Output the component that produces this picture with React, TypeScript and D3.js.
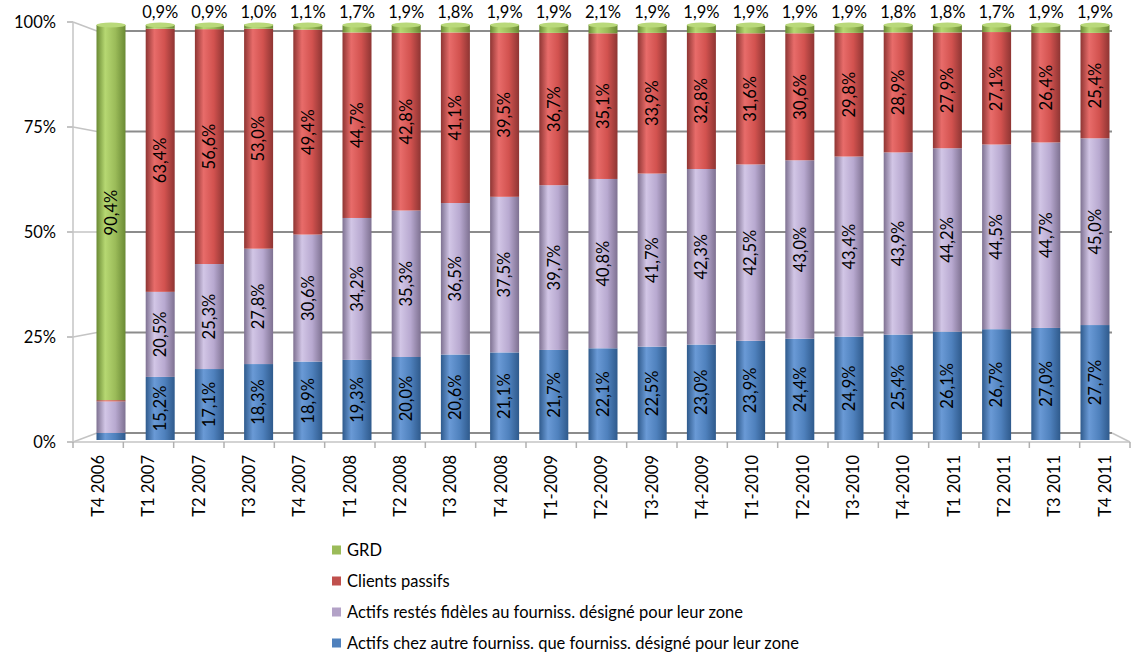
import React from "react";
import * as d3 from "d3";

const categories = [
  "T4 2006", "T1 2007", "T2 2007", "T3 2007", "T4 2007", "T1 2008", "T2 2008",
  "T3 2008", "T4 2008", "T1-2009", "T2-2009", "T3-2009", "T4-2009", "T1-2010",
  "T2-2010", "T3-2010", "T4-2010", "T1 2011", "T2 2011", "T3 2011", "T4 2011",
];

// stacked from the bottom up
const actifsAutre = [1.7, 15.2, 17.1, 18.3, 18.9, 19.3, 20.0, 20.6, 21.1, 21.7, 22.1, 22.5, 23.0, 23.9, 24.4, 24.9, 25.4, 26.1, 26.7, 27.0, 27.7];
const actifsFideles = [7.6, 20.5, 25.3, 27.8, 30.6, 34.2, 35.3, 36.5, 37.5, 39.7, 40.8, 41.7, 42.3, 42.5, 43.0, 43.4, 43.9, 44.2, 44.5, 44.7, 45.0];
const clientsPassifs = [0.3, 63.4, 56.6, 53.0, 49.4, 44.7, 42.8, 41.1, 39.5, 36.7, 35.1, 33.9, 32.8, 31.6, 30.6, 29.8, 28.9, 27.9, 27.1, 26.4, 25.4];
const grd = [90.4, 0.9, 0.9, 1.0, 1.1, 1.7, 1.9, 1.8, 1.9, 1.9, 2.1, 1.9, 1.9, 1.9, 1.9, 1.9, 1.8, 1.8, 1.7, 1.9, 1.9];

const yTicks = [0, 25, 50, 75, 100];

const seriesNames = [
  "Actifs chez autre fourniss. que  fourniss. désigné pour leur zone",
  "Actifs restés fidèles au fourniss. désigné pour  leur zone",
  "Clients passifs",
  "GRD",
];

const seriesValues = [actifsAutre, actifsFideles, clientsPassifs, grd];
// [dark edge, highlight, base, legend swatch]
const seriesColors = [
  ["#2f5a8c", "#6a9ad6", "#4f81bd", "#4f81bd"],
  ["#7e7191", "#d2c6e6", "#b8a9d0", "#b3a2c7"],
  ["#8e3533", "#e86c6a", "#d2524f", "#c0504d"],
  ["#6a8a34", "#b6d872", "#9bbb59", "#9bbb59"],
];

const FONT = "Lato, 'Open Sans', 'Liberation Sans', sans-serif";
const FS = 16.5;

export default function App() {
  const W = 1132;
  const H = 656;

  // front (axis) plane, back wall and the bars' own plane
  const yFront = d3.scaleLinear().domain([0, 100]).range([442, 22]);
  const yBack = d3.scaleLinear().domain([0, 100]).range([433, 31]);
  const yBar = d3.scaleLinear().domain([0, 100]).range([440, 25]);

  const xFront = d3.scaleBand<string>().domain(categories).range([73, 1130]);
  const xBar = d3.scaleBand<string>().domain(categories).range([86.4, 1119.6]);
  const barW = 29;

  const backLeft = 97;
  const backRight = 1112;

  const stack = d3
    .stack<number>()
    .keys([0, 1, 2, 3].map(String))
    .value((i, k) => seriesValues[+k][i]);
  const layers = stack(categories.map((_, i) => i));

  return (
    <svg
      width={W}
      height={H}
      style={{ position: "absolute", left: 0, top: 0, background: "#fff" }}
      fontFamily={FONT}
    >
      <defs>
        {seriesColors.map((c, s) => (
          <linearGradient key={s} id={`cyl${s}`} x1="0" x2="1" y1="0" y2="0">
            <stop offset="0" stopColor={c[0]} />
            <stop offset="0.3" stopColor={c[1]} />
            <stop offset="0.65" stopColor={c[2]} />
            <stop offset="1" stopColor={c[0]} />
          </linearGradient>
        ))}
      </defs>

      {/* back wall gridlines and left-side depth connectors */}
      {yTicks.map((t) => (
        <g key={t}>
          <line x1={backLeft} x2={backRight} y1={yBack(t)} y2={yBack(t)} stroke="#8c8c8c" strokeWidth={2} />
          <line x1={73} x2={backLeft} y1={yFront(t)} y2={yBack(t)} stroke="#c4c4c4" strokeWidth={1.5} />
          <line x1={67} x2={73} y1={yFront(t)} y2={yFront(t)} stroke="#b0b0b0" strokeWidth={1.5} />
          <text x={56} y={yFront(t)} dy="0.35em" textAnchor="end" fontSize={FS} fill="#000">
            {t}%
          </text>
        </g>
      ))}

      {/* floor edges */}
      <line x1={backRight} x2={1130} y1={yBack(0)} y2={yFront(0)} stroke="#c4c4c4" strokeWidth={1.5} />
      <line x1={73} x2={1130} y1={yFront(0)} y2={yFront(0)} stroke="#c4c4c4" strokeWidth={1.5} />
      <line x1={73} x2={73} y1={yFront(100)} y2={yFront(0)} stroke="#c4c4c4" strokeWidth={1.5} />
      {categories.map((c) => (
        <line key={c} x1={xFront(c)!} x2={xFront(c)!} y1={yFront(0)} y2={yFront(0) + 6} stroke="#b0b0b0" strokeWidth={1.5} />
      ))}
      <line x1={1130} x2={1130} y1={yFront(0)} y2={yFront(0) + 6} stroke="#b0b0b0" strokeWidth={1.5} />

      {/* cylinders */}
      {categories.map((c, i) => {
        const cx = xBar(c)! + xBar.bandwidth() / 2;
        const x0 = cx - barW / 2;
        return (
          <g key={c}>
            {layers.map((layer, s) => {
              const [a, b] = layer[i];
              if (b - a <= 0) return null;
              return (
                <rect
                  key={s}
                  x={x0}
                  y={yBar(b)}
                  width={barW}
                  height={yBar(a) - yBar(b)}
                  fill={`url(#cyl${s})`}
                />
              );
            })}
            <ellipse cx={cx} cy={yBar(100)} rx={barW / 2} ry={2.5} fill="#b9d97a" />
          </g>
        );
      })}

      {/* value labels */}
      {categories.map((c, i) => {
        const cx = xBar(c)! + xBar.bandwidth() / 2;
        return (
          <g key={c}>
            {layers.map((layer, s) => {
              const [a, b] = layer[i];
              const v = seriesValues[s][i];
              const txt = `${v.toFixed(1).replace(".", ",")}%`;
              if (s === 3 && v < 10) {
                return (
                  <text key={s} x={cx} y={18} textAnchor="middle" fontSize={FS} fill="#000">
                    {txt}
                  </text>
                );
              }
              if (v < 10) return null;
              const cy = yBar((a + b) / 2);
              return (
                <text
                  key={s}
                  transform={`translate(${cx},${cy}) rotate(-90)`}
                  textAnchor="middle"
                  dy="0.35em"
                  fontSize={FS}
                  fill="#000"
                >
                  {txt}
                </text>
              );
            })}
          </g>
        );
      })}

      {/* category labels */}
      {categories.map((c) => (
        <text
          key={c}
          transform={`translate(${xFront(c)! + xFront.bandwidth() / 2},455) rotate(-90)`}
          textAnchor="end"
          dy="0.35em"
          fontSize={FS}
          fill="#000"
        >
          {c}
        </text>
      ))}

      {/* legend */}
      {[3, 2, 1, 0].map((s, r) => {
        const y = 550 + r * 31;
        return (
          <g key={s}>
            <rect x={332} y={y - 4.5} width={9} height={9} fill={seriesColors[s][3]} />
            <text x={347} y={y} dy="0.35em" fontSize={FS} fill="#000">
              {seriesNames[s]}
            </text>
          </g>
        );
      })}
    </svg>
  );
}
